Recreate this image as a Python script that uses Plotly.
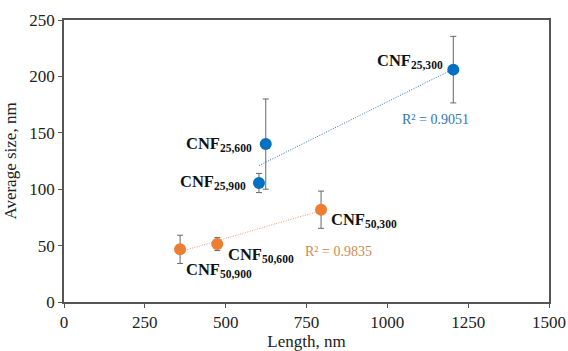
import numpy as np
import plotly.graph_objects as go

# Data
blue_names = ["25,900", "25,600", "25,300"]
blue_len = [603, 624, 1204]
blue_size = [105.5, 140, 206]
blue_err = [8.5, 40, 29.5]

orange_names = ["50,900", "50,600", "50,300"]
orange_len = [359, 474, 795]
orange_size = [46.7, 51.4, 81.8]
orange_err = [12.5, 5.7, 16.5]

r2_blue = "R² = 0.9051"
r2_orange = "R² = 0.9835"

BLUE = "#0070C0"
ORANGE = "#ED7D31"
FONT = "Liberation Serif"

fig = go.Figure()

def add_trend(xs, ys, color):
    xs = np.array(xs, float); ys = np.array(ys, float)
    m, b = np.polyfit(xs, ys, 1)
    xx = np.array([xs.min(), xs.max()])
    fig.add_trace(go.Scatter(x=xx, y=m * xx + b, mode="lines",
                             line=dict(color=color, width=1, dash="1px,1.5px"),
                             showlegend=False, hoverinfo="skip"))

add_trend(blue_len, blue_size, "#2E75B6")
add_trend(orange_len, orange_size, "#E0A070")

for xs, ys, es, c in [(blue_len, blue_size, blue_err, BLUE),
                      (orange_len, orange_size, orange_err, ORANGE)]:
    fig.add_trace(go.Scatter(x=xs, y=ys, mode="markers",
                             marker=dict(color=c, size=12),
                             error_y=dict(type="data", array=es, color="#666666",
                                          thickness=1, width=3),
                             showlegend=False))

lab_font = dict(family=FONT, size=16.5, color="#111111")
# label positions (data coords)
blue_lab = [(569, 106, "right"), (588, 140.5, "right"), (1178, 214, "right")]
orange_lab = [(371, 28.5, "left"), (501, 42, "left"), (820, 73, "left")]
for names, pos in [(blue_names, blue_lab), (orange_names, orange_lab)]:
    for n, (x, y, anc) in zip(names, pos):
        fig.add_annotation(x=x, y=y, text=f"<b>CNF<sub>{n}</sub></b>", showarrow=False,
                           xanchor=anc, yanchor="middle", font=lab_font)

fig.add_annotation(x=1150, y=162, text=r2_blue, showarrow=False,
                   font=dict(family=FONT, size=14, color="#2E75B6"))
fig.add_annotation(x=850, y=45, text=r2_orange, showarrow=False,
                   font=dict(family=FONT, size=14, color="#D08A4E"))

axis_common = dict(showgrid=False, zeroline=False, showline=True, linecolor="#555555",
                   linewidth=1.5, mirror=True, ticks="outside", ticklen=4, automargin=False,
                   tickcolor="#555555", tickfont=dict(family=FONT, size=17, color="#222222"))
fig.update_xaxes(range=[0, 1500], dtick=250, title=dict(text="Length, nm", standoff=2,
                 font=dict(family=FONT, size=17, color="#222222")), **axis_common)
fig.update_yaxes(range=[0, 250], dtick=50, title=dict(text="Average size, nm", standoff=8,
                 font=dict(family=FONT, size=17, color="#222222")), **axis_common)

fig.update_layout(width=568, height=351, margin=dict(l=64, r=19, t=20, b=49),
                  plot_bgcolor="white", paper_bgcolor="white")
fig.write_html("out.html", config={"displayModeBar": False},
               post_script="document.body.style.margin='0';document.body.style.overflow='hidden';")
